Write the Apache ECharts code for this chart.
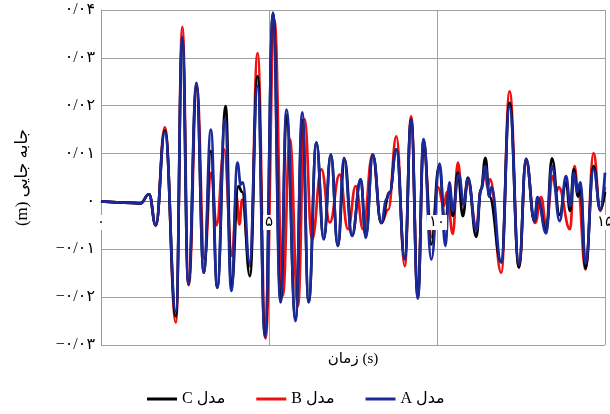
<!DOCTYPE html>
<html>
<head>
  <meta charset="utf-8">
  <script src="https://cdn.jsdelivr.net/npm/echarts@6/dist/echarts.min.js"></script>
</head>
<body style="margin:0">
<div id="main" style="width: 610px; height: 414px"></div>
<script>
  // series names (legend order: C, B, A)
  const nameA = 'مدل A';
  const nameB = 'مدل B';
  const nameC = 'مدل C';
  const xTicks = [0, 5, 10, 15];
  const yTicks = [-0.03, -0.02, -0.01, 0, 0.01, 0.02, 0.03, 0.04];

  // [time (s), displacement (m)] read at peaks and troughs
  const modelA = [
    [0, 0], [0.9, -0.0003], [1.17, -0.0004], [1.43, 0.0015], [1.63, -0.005], [1.9, 0.0145],
    [2.23, -0.023], [2.42, 0.0344], [2.6, -0.0173], [2.84, 0.0248], [3.06, -0.0149], [3.27, 0.015],
    [3.46, -0.018], [3.69, 0.0171], [3.88, -0.0187], [4.06, 0.0081], [4.16, 0.0035], [4.22, 0.004],
    [4.42, -0.0128], [4.66, 0.0241], [4.88, -0.0284], [5.12, 0.0394], [5.34, -0.0211], [5.52, 0.0192],
    [5.79, -0.025], [5.99, 0.0186], [6.18, -0.0211], [6.41, 0.0123], [6.63, -0.0079], [6.84, 0.0098],
    [7.05, -0.0093], [7.23, 0.0091], [7.47, -0.0072], [7.73, 0.0046], [7.88, -0.0076], [8.09, 0.0098],
    [8.34, -0.0045], [8.5, 0.0005], [8.59, 0.0019], [8.79, 0.0109], [9.04, -0.0121], [9.23, 0.0171],
    [9.43, -0.0203], [9.6, 0.013], [9.83, -0.0121], [10.08, 0.0079], [10.25, -0.0093], [10.37, 0.004],
    [10.47, -0.002], [10.65, 0.0056], [10.8, -0.0006], [10.92, 0.0047], [11.17, -0.006], [11.31, 0.0025],
    [11.44, 0.0074], [11.56, 0.001], [11.62, 0.003], [11.91, -0.0128], [12.16, 0.0198], [12.44, -0.0132],
    [12.65, 0.0089], [12.9, -0.0041], [12.99, 0.0009], [13.25, -0.0067], [13.42, 0.0074], [13.65, -0.0041],
    [13.84, 0.0053], [13.97, -0.001], [14.08, 0.006], [14.17, 0.002], [14.27, 0.004], [14.42, -0.013],
    [14.66, 0.0067], [14.86, -0.0017], [15, 0.006]
  ];
  const modelB = [
    [0, 0], [0.9, -0.0003], [1.17, -0.0004], [1.43, 0.0015], [1.63, -0.005], [1.9, 0.0155],
    [2.23, -0.0253], [2.42, 0.0365], [2.61, -0.0175], [2.85, 0.024], [3.08, -0.012], [3.28, 0.006],
    [3.44, -0.005], [3.66, 0.0109], [3.9, -0.0114], [4.03, 0.001], [4.12, -0.0048], [4.2, 0.0004],
    [4.43, -0.0135], [4.66, 0.031], [4.9, -0.0286], [5.16, 0.038], [5.41, -0.0197], [5.62, 0.013],
    [5.86, -0.0219], [6.06, 0.0172], [6.28, -0.008], [6.56, 0.0067], [6.81, -0.0044], [7.1, 0.0056],
    [7.35, -0.0058], [7.58, 0.0032], [7.8, -0.0058], [8.08, 0.0098], [8.34, -0.0045], [8.55, -0.0017],
    [8.79, 0.0136], [9.04, -0.0135], [9.23, 0.0178], [9.43, -0.019], [9.6, 0.011], [9.85, -0.0075],
    [10.03, 0.003], [10.2, -0.001], [10.3, 0.002], [10.47, -0.0068], [10.62, 0.0081], [10.77, -0.0006],
    [10.92, 0.004], [11.17, -0.0052], [11.31, 0.0025], [11.44, 0.006], [11.5, 0.003], [11.58, 0.0046],
    [11.91, -0.0149], [12.16, 0.023], [12.44, -0.0138], [12.65, 0.0082], [12.92, -0.0045], [13.1, 0.0009],
    [13.25, -0.005], [13.45, 0.0053], [13.55, 0.002], [13.62, 0.003], [13.96, -0.0058], [14.09, 0.0074],
    [14.2, 0.002], [14.42, -0.0142], [14.66, 0.0101], [14.86, -0.002], [15, 0.003]
  ];
  const modelC = [
    [0, 0], [0.9, -0.0003], [1.17, -0.0004], [1.43, 0.0015], [1.63, -0.005], [1.9, 0.0148],
    [2.23, -0.024], [2.42, 0.0335], [2.6, -0.0173], [2.84, 0.024], [3.06, -0.0149], [3.27, 0.0105],
    [3.46, -0.018], [3.71, 0.0199], [3.88, -0.018], [4.09, 0.0032], [4.2, 0.002], [4.43, -0.0156],
    [4.66, 0.0262], [4.88, -0.028], [5.12, 0.0394], [5.35, -0.021], [5.52, 0.018], [5.79, -0.0245],
    [5.99, 0.017], [6.18, -0.021], [6.41, 0.0123], [6.63, -0.0079], [6.84, 0.0098], [7.05, -0.0093],
    [7.25, 0.0088], [7.47, -0.0072], [7.73, 0.0046], [7.88, -0.0072], [8.09, 0.0098], [8.34, -0.0045],
    [8.59, 0.0019], [8.79, 0.0109], [9.04, -0.0118], [9.23, 0.0171], [9.43, -0.02], [9.6, 0.0129],
    [9.83, -0.009], [10.06, 0.0074], [10.25, -0.005], [10.37, 0.003], [10.47, -0.003], [10.62, 0.006],
    [10.77, -0.0031], [10.92, 0.005], [11.17, -0.0074], [11.31, 0.0025], [11.44, 0.0091], [11.56, 0.001],
    [11.91, -0.0126], [12.16, 0.0206], [12.44, -0.0138], [12.65, 0.0089], [12.9, -0.0041], [13.0, 0.0005],
    [13.25, -0.006], [13.42, 0.009], [13.65, -0.0028], [13.84, 0.004], [13.96, -0.002], [14.07, 0.0067],
    [14.2, 0.001], [14.27, 0.003], [14.42, -0.014], [14.66, 0.0074], [14.86, -0.0017], [15, 0.002]
  ];

  const faDigits = '۰۱۲۳۴۵۶۷۸۹';
  const toFa = s => String(s).replace(/[0-9]/g, d => faDigits[+d]);
  const rtl = s => '\u202B' + s + '\u202C';
  const font = "'Liberation Serif', 'DejaVu Sans', serif";

  const chart = echarts.init(document.getElementById('main'));

  const lineSeries = (name, data, color) => ({
    name: name,
    type: 'line',
    data: data,
    smooth: 0.45,
    smoothMonotone: 'x',
    showSymbol: false,
    lineStyle: { color: color, width: 2.7 },
    itemStyle: { color: color }
  });

  chart.setOption({
    animation: false,
    grid: { left: 101, right: 5, top: 10, bottom: 69, containLabel: false, outerBoundsMode: 'none' },
    legend: {
      data: [nameC, nameB, nameA],
      left: 147,
      top: 391,
      padding: 0,
      icon: 'rect',
      itemWidth: 30,
      itemHeight: 3,
      itemGap: 31,
      formatter: n => rtl(n),
      textStyle: { fontFamily: font, fontSize: 16, color: '#000' }
    },
    xAxis: [{
      // grid lines + zero line, under the curves
      type: 'value',
      min: 0,
      max: 15,
      interval: 5,
      offset: -144,
      name: 'زمان (s)',
      nameLocation: 'middle',
      nameGap: 151,
      nameTextStyle: { fontFamily: font, fontSize: 15, color: '#000' },
      axisLine: { onZero: false, lineStyle: { color: '#777', width: 1 } },
      axisTick: { show: false },
      axisLabel: { show: false },
      splitLine: { show: true, lineStyle: { color: '#a0a0a0', width: 1 } }
    }, {
      // tick labels on the zero line, drawn over the curves
      type: 'value',
      position: 'bottom',
      min: 0,
      max: 15,
      interval: 5,
      offset: -144,
      z: 10,
      axisLine: { show: false, onZero: false },
      axisTick: { show: false },
      splitLine: { show: false },
      axisLabel: {
        margin: 14,
        formatter: v => toFa(v),
        fontFamily: font,
        fontSize: 15,
        color: '#000',
        backgroundColor: '#fff',
        padding: [0, 2]
      }
    }],
    yAxis: {
      type: 'value',
      min: -0.03,
      max: 0.04,
      interval: 0.01,
      name: rtl('جابه جایی (m)'),
      nameLocation: 'middle',
      nameGap: 70,
      nameRotate: 90,
      nameTextStyle: { fontFamily: font, fontSize: 17, color: '#000' },
      axisLine: { show: true, lineStyle: { color: '#999' } },
      axisTick: { show: false },
      axisLabel: {
        margin: 6,
        fontFamily: font,
        fontSize: 16,
        color: '#000',
        formatter: v => {
          if (Math.abs(v) < 1e-9) return '۰';
          return (v < 0 ? '−' : '') + toFa(Math.abs(v).toFixed(2)).replace('.', '/');
        }
      },
      splitLine: { show: true, lineStyle: { color: '#a0a0a0', width: 1 } }
    },
    series: [
      lineSeries(nameB, modelB, '#f01010'),
      lineSeries(nameC, modelC, '#000000'),
      lineSeries(nameA, modelA, '#1a2a9c')
    ]
  });
</script>
</body>
</html>
